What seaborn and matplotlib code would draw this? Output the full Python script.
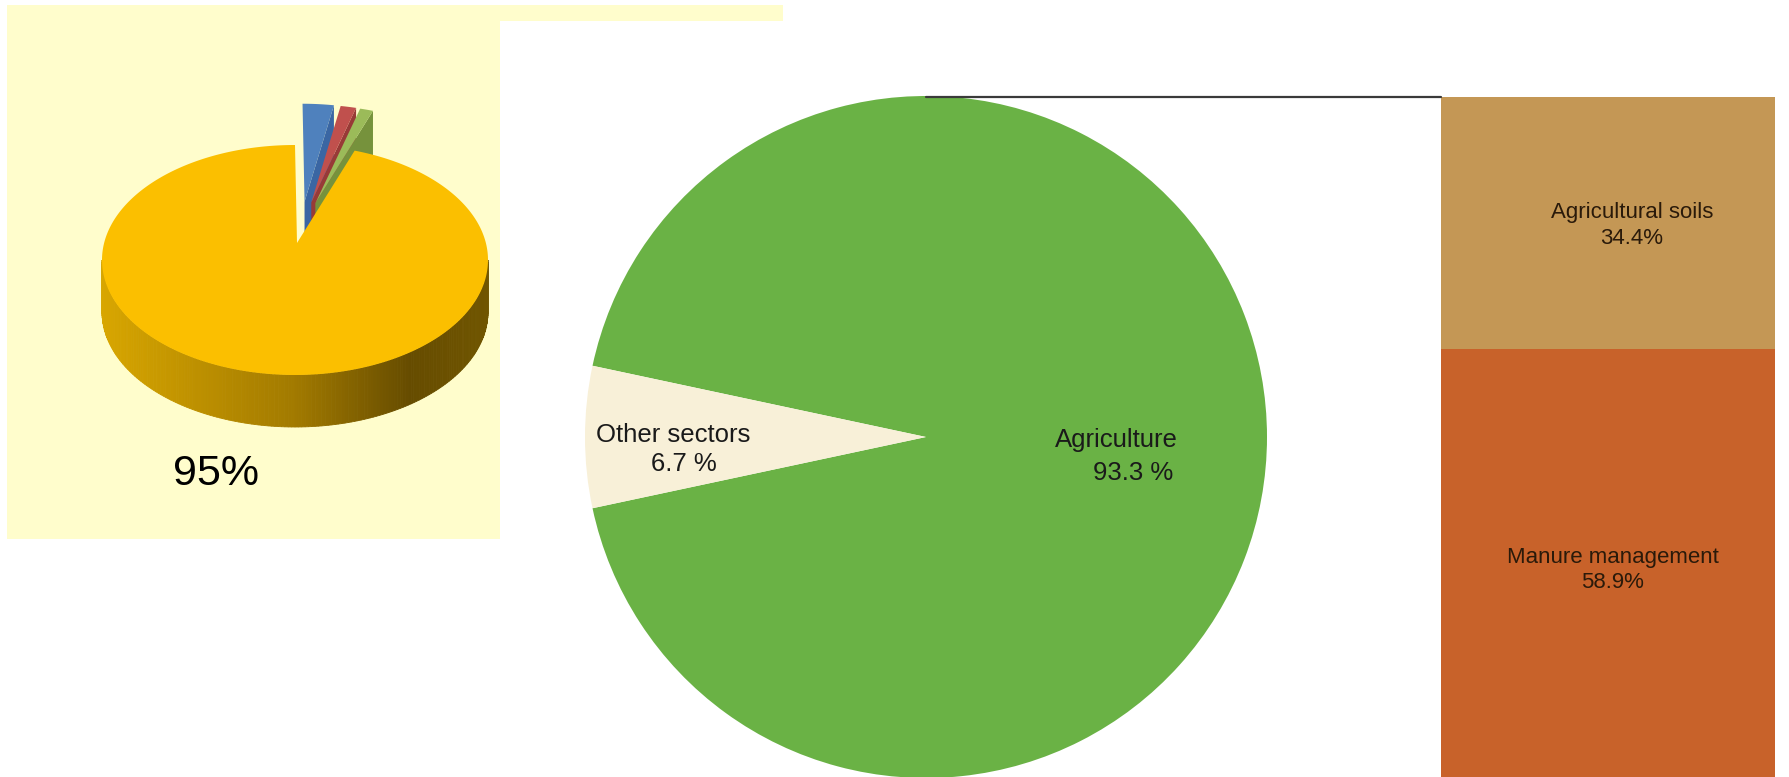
import numpy as np
import pandas as pd
import matplotlib
matplotlib.use("Agg")
import matplotlib.pyplot as plt
from matplotlib.patches import Polygon, Rectangle
from matplotlib.colors import LinearSegmentedColormap
from matplotlib import font_manager
import seaborn as sns

# ---------------- data ----------------
small_pie_values = [95.0, 2.6, 1.3, 1.1]          # main slice + three exploded slices
small_pie_colors = ["#FBBF00", "#4F81BD", "#C0504D", "#9BBB59"]
small_pie_side = [None, "#3A66A3", "#983A37", "#76923C"]
small_pie_label = "95%"

sector_labels = ["Agriculture", "Other sectors"]
sector_values = [93.3, 6.7]
sector_colors = ["#6AB245", "#F8F0D8"]

source_labels = ["Manure management", "Agricultural soils"]
source_values = [58.9, 34.4]
source_colors = ["#C8622A", "#C49755"]

W, H = 1790, 777
sns.set_theme(style="white")
avail = {f.name for f in font_manager.fontManager.ttflist}


def pick(*names):
    for n in names:
        if n in avail:
            return n
    return "DejaVu Sans"


sans = pick("Liberation Sans", "Arial", "DejaVu Sans")
plt.rcParams["font.family"] = [sans, "DejaVu Sans"]

fig = plt.figure(figsize=(W / 100, H / 100), dpi=100)
fig.patch.set_facecolor("white")


def px_axes(x0, y0, x1, y1, **kw):
    return fig.add_axes([x0 / W, 1 - y1 / H, (x1 - x0) / W, (y1 - y0) / H], **kw)


# ---------------- big pie ----------------
cx, cy, R = 926, 437, 341
ax_pie = px_axes(cx - R, cy - R, cx + R, cy + R)
start = 180 + sector_values[1] * 3.6 / 2
ax_pie.pie(sector_values, colors=sector_colors, startangle=start, counterclock=True,
           radius=1, wedgeprops=dict(linewidth=0))
ax_pie.set_xlim(-1, 1)
ax_pie.set_ylim(-1, 1)
ax_pie.set_aspect("equal")
ax_pie.axis("off")

# ---------------- stacked bar ----------------
ax_bar = px_axes(1441, 97, 1775, 780)
cum = np.cumsum(source_values)
df = pd.DataFrame({"group": ["Agriculture"] * len(source_values),
                   "top": cum, "source": source_labels})
for i in reversed(range(len(source_labels))):
    sns.barplot(data=df.iloc[[i]], x="group", y="top", color=source_colors[i],
                width=1, saturation=1, linewidth=0, ax=ax_bar)
ax_bar.set_xlim(-0.5, 0.5)
ax_bar.set_ylim(0, cum[-1])
ax_bar.axis("off")

# ---------------- overlay (pixel coordinates) ----------------
ov = fig.add_axes([0, 0, 1, 1], zorder=10)
ov.set_xlim(0, W)
ov.set_ylim(H, 0)
ov.axis("off")
ov.patch.set_alpha(0)

# yellow panel
ov.add_patch(Rectangle((7, 5), 776, 16, fc="#FFFDCC", ec="none", zorder=0))
ov.add_patch(Rectangle((7, 5), 493, 534, fc="#FFFDCC", ec="none", zorder=0))

# 3D pie
ecx, ecy, rx, ry, depth = 295, 260, 193, 115, 52
tipx, tipy = 297, 243


def ell(t):
    return np.array([ecx + rx * np.cos(t), ecy - ry * np.sin(t)])


fr = np.array(small_pie_values) / sum(small_pie_values)
deg = fr * 360
t_hi = 90.0
exploded = []
for i in range(1, len(fr)):
    t_lo = t_hi - deg[i]
    exploded.append((i, t_lo, t_hi))
    t_hi = t_lo
yellow_hi = t_hi
yellow_lo = t_hi - deg[0]

e = 0.36
for i, lo, hi in exploded:
    tm = np.radians((lo + hi) / 2)
    dx, dy = rx * e * np.cos(tm) * 0.8 + 3, -ry * e * np.sin(tm)
    ts = np.radians(np.linspace(lo, hi, 20))
    arc = np.column_stack([ecx + rx * np.cos(ts) + dx, ecy - ry * np.sin(ts) + dy])
    tip = np.array([tipx + dx, tipy + dy])
    plo = arc[0]
    side = [tip, plo, plo + [0, depth], tip + [0, depth]]
    ov.add_patch(Polygon(side, closed=True, fc=small_pie_side[i], ec="none", zorder=1))
    ov.add_patch(Polygon(np.vstack([tip, arc]), closed=True, fc=small_pie_colors[i],
                         ec="none", zorder=1))

cmap = LinearSegmentedColormap.from_list(
    "side", [(0, "#D8A600"), (0.5, "#A27A00"), (0.8, "#664C00"), (1, "#705500")])
ts = np.radians(np.linspace(180, 360, 181))
for a, b in zip(ts[:-1], ts[1:]):
    p1, p2 = ell(a), ell(b)
    col = cmap((np.cos((a + b) / 2) + 1) / 2)
    ov.add_patch(Polygon([p1, p2, p2 + [0, depth], p1 + [0, depth]], closed=True,
                         fc=col, ec=col, lw=0.6, zorder=2))
ts = np.radians(np.linspace(yellow_hi, yellow_lo, 400))
arc = np.column_stack([ecx + rx * np.cos(ts), ecy - ry * np.sin(ts)])
ov.add_patch(Polygon(np.vstack([[tipx, tipy], arc]), closed=True,
                     fc=small_pie_colors[0], ec="none", zorder=3))

ov.text(216, 485, small_pie_label, ha="center", va="baseline", fontsize=31,
        color="#000000", zorder=4)

# connector line
ov.plot([cx, 1441], [97, 97], color="#3A3A3A", lw=1.6, zorder=4)

# big pie labels
tc = "#1A1A1A"
ov.text(1116, 447, sector_labels[0], ha="center", va="baseline", fontsize=18.5, color=tc)
ov.text(1133, 480, f"{sector_values[0]:.1f} %", ha="center", va="baseline", fontsize=18.5, color=tc)
ov.text(673, 442, sector_labels[1], ha="center", va="baseline", fontsize=18.5, color=tc)
ov.text(684, 471, f"{sector_values[1]:.1f} %", ha="center", va="baseline", fontsize=18.5, color=tc)

# bar labels
bc = "#2A1A0A"
ov.text(1632, 218, source_labels[1], ha="center", va="baseline", fontsize=16, color=bc)
ov.text(1632, 244, f"{source_values[1]:.1f}%", ha="center", va="baseline", fontsize=16, color=bc)
ov.text(1613, 563, source_labels[0], ha="center", va="baseline", fontsize=16, color=bc)
ov.text(1613, 588, f"{source_values[0]:.1f}%", ha="center", va="baseline", fontsize=16, color=bc)

fig.savefig("out.png", dpi=100, facecolor="white")
